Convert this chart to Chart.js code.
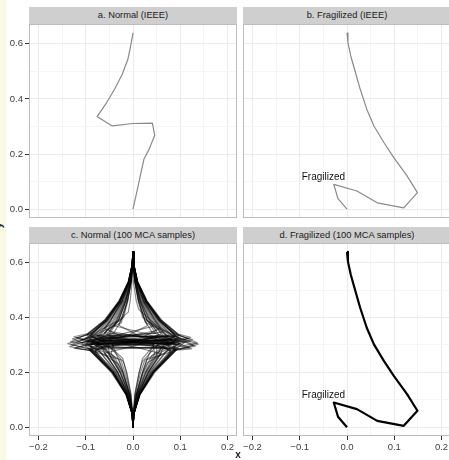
<!DOCTYPE html>
<html><head><meta charset="utf-8">
<script src="https://cdn.jsdelivr.net/npm/chart.js@4"></script>
<style>
html,body{margin:0;padding:0;background:#fff;}
body{width:449px;height:460px;overflow:hidden;position:relative;font-family:"Liberation Sans",Arial,sans-serif;}
#cream{position:absolute;left:0;top:0;width:6px;height:460px;background:#fcf9e3;}
.strip{position:absolute;width:208px;height:17px;background:#cfcfcf;color:#1a1a1a;font-size:9.3px;line-height:17px;text-align:center;white-space:nowrap;}
canvas{position:absolute;}
#xt{position:absolute;left:228px;top:449px;width:20px;text-align:center;font-size:10px;font-weight:bold;color:#222;}
#yt{position:absolute;left:-4px;top:220px;font-size:10px;font-weight:bold;color:#222;transform:rotate(-90deg);}
</style></head><body>
<div id="cream"></div>
<div class="strip" style="left:29px;top:7px;">a. Normal (IEEE)</div>
<div class="strip" style="left:243px;top:7px;">b. Fragilized (IEEE)</div>
<div class="strip" style="left:29px;top:227px;height:16px;line-height:16px;">c. Normal (100 MCA samples)</div>
<div class="strip" style="left:243px;top:227px;height:16px;line-height:16px;">d. Fragilized (100 MCA samples)</div>
<canvas id="pa" width="240" height="202" style="left:0;top:20px;"></canvas>
<canvas id="pb" width="212" height="202" style="left:240px;top:20px;"></canvas>
<canvas id="pc" width="240" height="221" style="left:0;top:239px;"></canvas>
<canvas id="pd" width="212" height="221" style="left:240px;top:239px;"></canvas>
<div id="xt">x</div>
<div id="yt">y</div>
<script>
// ---- axis ticks ----
const xMajor = [-0.2, -0.1, 0, 0.1, 0.2];
const xTickLabels = ['−0.2', '−0.1', '0.0', '0.1', '0.2'];
const xMinor = [-0.15, -0.05, 0.05, 0.15];
const yMajor = [0, 0.2, 0.4, 0.6];
const yTickLabels = ['0.0', '0.2', '0.4', '0.6'];
const yMinor = [0.1, 0.3, 0.5];
const xLimits = [-0.22, 0.22];
const yLimits = [-0.032, 0.672];

// ---- a. Normal (IEEE) ----
const normalX = [0, -0.005, -0.011, -0.023, -0.039, -0.056, -0.076, -0.044, 0.000, 0.041, 0.046, 0.034, 0.023, 0.014, 0];
const normalY = [0.640, 0.592, 0.543, 0.489, 0.435, 0.386, 0.336, 0.302, 0.311, 0.312, 0.268, 0.217, 0.181, 0.109, 0];

// ---- b./d. Fragilized ----
const fragX = [0, 0.002, 0.008, 0.018, 0.028, 0.042, 0.057, 0.078, 0.099, 0.127, 0.149, 0.120, 0.064, 0.021, -0.028, -0.019, 0];
const fragY = [0.640, 0.604, 0.556, 0.495, 0.435, 0.362, 0.302, 0.242, 0.187, 0.121, 0.060, 0.005, 0.023, 0.066, 0.090, 0.038, 0];

// annotation
const labelText = ['Fragilized'];
const labelX = [-0.05];
const labelY = [0.117];

// ---- c. Normal (MCA samples), each as flat x,y pairs ----
const mcaSamples = [
[0,0.64,-0.002,0.59,-0.008,0.53,-0.023,0.46,-0.047,0.39,-0.076,0.336,-0.044,0.302,0.000,0.311,0.041,0.312,0.046,0.268,0.025,0.20,0.008,0.12,0.001,0.05,0,0],
[0,0.64,0.002,0.59,0.008,0.53,0.023,0.46,0.047,0.39,0.076,0.336,0.044,0.302,-0.041,0.312,-0.046,0.268,-0.025,0.20,-0.008,0.12,-0.001,0.05,0,0],
[0,0.64,-0.002,0.59,-0.010,0.53,-0.029,0.46,-0.059,0.39,-0.095,0.340,-0.132,0.312,-0.090,0.294,0.088,0.286,0.042,0.20,0.014,0.12,0.002,0.05,0,0],
[0,0.64,0.002,0.59,0.010,0.53,0.029,0.46,0.059,0.39,0.095,0.338,0.136,0.308,0.092,0.292,-0.088,0.284,-0.042,0.20,-0.014,0.12,-0.002,0.05,0,0],
[0,0.64,-0.002,0.59,-0.009,0.53,-0.027,0.46,-0.056,0.39,-0.090,0.334,0.090,0.330,0.128,0.300,0.085,0.280,0.041,0.20,0.014,0.12,0.002,0.05,0,0],
[0,0.64,0.002,0.59,0.009,0.53,0.027,0.46,0.056,0.39,0.090,0.332,-0.092,0.328,-0.130,0.302,-0.085,0.282,-0.041,0.20,-0.014,0.12,-0.002,0.05,0,0],
[0,0.64,-0.002,0.59,-0.009,0.53,-0.026,0.46,-0.053,0.39,-0.085,0.345,-0.120,0.325,-0.060,0.305,0.070,0.318,0.080,0.276,0.038,0.20,0.013,0.12,0.002,0.05,0,0],
[0,0.64,0.002,0.59,0.009,0.53,0.026,0.46,0.053,0.39,0.085,0.344,0.118,0.322,0.062,0.306,-0.072,0.316,-0.080,0.278,-0.038,0.20,-0.013,0.12,-0.002,0.05,0,0],
[0,0.64,-0.001,0.59,-0.006,0.53,-0.018,0.46,-0.037,0.39,-0.060,0.342,-0.020,0.312,0.065,0.305,0.060,0.272,0.032,0.20,0.011,0.12,0.002,0.05,0,0],
[0,0.64,0.001,0.59,0.006,0.53,0.018,0.46,0.037,0.39,0.060,0.340,0.022,0.314,-0.068,0.306,-0.060,0.270,-0.032,0.20,-0.011,0.12,-0.002,0.05,0,0],
[0,0.64,-0.001,0.59,-0.004,0.53,-0.012,0.46,-0.030,0.372,0.010,0.335,0.075,0.310,0.040,0.262,0.022,0.20,0.007,0.12,0.001,0.05,0,0],
[0,0.64,0.001,0.59,0.004,0.53,0.012,0.46,0.030,0.370,-0.012,0.334,-0.078,0.308,-0.040,0.260,-0.022,0.20,-0.007,0.12,-0.001,0.05,0,0],
[0,0.64,-0.002,0.59,-0.009,0.53,-0.028,0.46,-0.057,0.39,-0.092,0.330,-0.138,0.305,-0.100,0.288,0.070,0.292,0.075,0.285,0.036,0.20,0.012,0.12,0.002,0.05,0,0],
[0,0.64,0.002,0.59,0.009,0.53,0.028,0.46,0.057,0.39,0.092,0.330,0.138,0.303,0.100,0.287,-0.070,0.294,-0.075,0.286,-0.036,0.20,-0.012,0.12,-0.002,0.05,0,0],
[0,0.64,-0.002,0.59,-0.008,0.53,-0.024,0.46,-0.050,0.39,-0.080,0.338,0.080,0.326,0.090,0.282,0.043,0.20,0.014,0.12,0.002,0.05,0,0],
[0,0.64,0.002,0.59,0.008,0.53,0.024,0.46,0.050,0.39,0.080,0.336,-0.082,0.324,-0.090,0.284,-0.043,0.20,-0.014,0.12,-0.002,0.05,0,0],
[0,0.64,-0.001,0.59,-0.007,0.53,-0.021,0.46,-0.043,0.39,-0.070,0.335,-0.110,0.318,-0.050,0.296,0.090,0.310,0.120,0.290,0.070,0.278,0.034,0.20,0.011,0.12,0.001,0.05,0,0],
[0,0.64,0.001,0.59,0.007,0.53,0.021,0.46,0.043,0.39,0.070,0.333,0.112,0.316,0.052,0.298,-0.092,0.308,-0.122,0.288,-0.070,0.276,-0.034,0.20,-0.011,0.12,-0.001,0.05,0,0],
[0,0.64,-0.001,0.59,-0.005,0.53,-0.015,0.46,-0.031,0.39,-0.050,0.350,0.040,0.322,0.095,0.320,0.050,0.290,0.050,0.262,0.027,0.20,0.009,0.12,0.001,0.05,0,0],
[0,0.64,0.001,0.59,0.005,0.53,0.015,0.46,0.031,0.39,0.050,0.352,-0.040,0.324,-0.095,0.318,-0.052,0.292,-0.050,0.264,-0.027,0.20,-0.009,0.12,-0.001,0.05,0,0],
[0,0.64,-0.001,0.59,-0.004,0.53,-0.011,0.46,-0.020,0.400,-0.070,0.332,0.080,0.300,0.030,0.250,0.020,0.20,0.007,0.12,0.001,0.05,0,0],
[0,0.64,0.001,0.59,0.004,0.53,0.011,0.46,0.020,0.402,0.072,0.334,-0.080,0.298,-0.030,0.248,-0.020,0.20,-0.007,0.12,-0.001,0.05,0,0],
[0,0.64,-0.002,0.59,-0.010,0.53,-0.029,0.46,-0.059,0.39,-0.095,0.336,-0.070,0.318,0.090,0.315,0.060,0.290,0.092,0.282,0.044,0.20,0.015,0.12,0.002,0.05,0,0],
[0,0.64,0.002,0.59,0.010,0.53,0.029,0.46,0.059,0.39,0.095,0.334,0.070,0.316,-0.090,0.313,-0.060,0.288,-0.092,0.284,-0.044,0.20,-0.015,0.12,-0.002,0.05,0,0],
[0,0.64,-0.001,0.59,-0.004,0.53,-0.012,0.46,-0.025,0.39,-0.040,0.345,-0.085,0.315,0.030,0.300,0.100,0.305,0.060,0.275,0.032,0.20,0.011,0.12,0.002,0.05,0,0],
[0,0.64,0.001,0.59,0.004,0.53,0.012,0.46,0.025,0.39,0.040,0.347,0.085,0.317,-0.030,0.302,-0.100,0.303,-0.060,0.273,-0.032,0.20,-0.011,0.12,-0.002,0.05,0,0],
[0,0.64,-0.002,0.59,-0.009,0.53,-0.027,0.46,-0.056,0.39,-0.090,0.340,-0.128,0.322,-0.094,0.300,0.092,0.322,0.132,0.296,0.090,0.282,0.043,0.20,0.014,0.12,0.002,0.05,0,0],
[0,0.64,0.002,0.59,0.009,0.53,0.027,0.46,0.056,0.39,0.090,0.338,0.126,0.320,0.094,0.302,-0.090,0.320,-0.134,0.294,-0.090,0.280,-0.043,0.20,-0.014,0.12,-0.002,0.05,0,0],
[0,0.64,-0.001,0.59,-0.007,0.53,-0.020,0.46,-0.040,0.39,-0.065,0.330,0.060,0.290,0.040,0.240,0.027,0.20,0.009,0.12,0.001,0.05,0,0],
[0,0.64,0.001,0.59,0.007,0.53,0.020,0.46,0.040,0.39,0.065,0.332,-0.060,0.292,-0.040,0.242,-0.027,0.20,-0.009,0.12,-0.001,0.05,0,0],
[0,0.64,-0.002,0.59,-0.009,0.53,-0.026,0.46,-0.053,0.39,-0.085,0.332,-0.100,0.300,0.030,0.330,0.090,0.300,0.085,0.282,0.041,0.20,0.014,0.12,0.002,0.05,0,0],
[0,0.64,0.002,0.59,0.009,0.53,0.026,0.46,0.053,0.39,0.085,0.330,0.100,0.302,-0.030,0.328,-0.090,0.302,-0.085,0.280,-0.041,0.20,-0.014,0.12,-0.002,0.05,0,0],
[0,0.64,-0.001,0.59,-0.005,0.53,-0.015,0.46,-0.030,0.390,-0.100,0.325,0.060,0.315,0.020,0.240,0.013,0.20,0.004,0.12,0.001,0.05,0,0],
[0,0.64,0.001,0.59,0.005,0.53,0.015,0.46,0.030,0.388,0.100,0.323,-0.060,0.313,-0.020,0.238,-0.013,0.20,-0.004,0.12,-0.001,0.05,0,0],
[0,0.64,-0.002,0.59,-0.010,0.53,-0.029,0.46,-0.059,0.39,-0.095,0.342,-0.125,0.330,-0.085,0.310,0.085,0.305,0.124,0.286,0.085,0.280,0.041,0.20,0.014,0.12,0.002,0.05,0,0],
[0,0.64,0.002,0.59,0.010,0.53,0.029,0.46,0.059,0.39,0.095,0.340,0.122,0.328,0.085,0.312,-0.085,0.303,-0.125,0.288,-0.085,0.278,-0.041,0.20,-0.014,0.12,-0.002,0.05,0,0],
[0,0.64,-0.002,0.59,-0.008,0.53,-0.023,0.46,-0.047,0.39,-0.075,0.330,-0.040,0.300,0.070,0.320,0.110,0.310,0.090,0.285,0.043,0.20,0.014,0.12,0.002,0.05,0,0],
[0,0.64,0.002,0.59,0.008,0.53,0.023,0.46,0.047,0.39,0.075,0.328,0.040,0.302,-0.070,0.322,-0.110,0.308,-0.090,0.283,-0.043,0.20,-0.014,0.12,-0.002,0.05,0,0],
[0,0.64,-0.002,0.59,-0.009,0.53,-0.026,0.46,-0.055,0.39,-0.088,0.338,0.000,0.318,0.088,0.333,0.050,0.300,0.080,0.280,0.038,0.20,0.013,0.12,0.002,0.05,0,0],
[0,0.64,0.002,0.59,0.009,0.53,0.026,0.46,0.055,0.39,0.088,0.336,0.000,0.316,-0.088,0.331,-0.050,0.302,-0.080,0.278,-0.038,0.20,-0.013,0.12,-0.002,0.05,0,0],
[0,0.64,-0.002,0.59,-0.009,0.53,-0.028,0.46,-0.057,0.39,-0.092,0.336,-0.060,0.310,-0.095,0.286,-0.046,0.20,-0.015,0.12,-0.002,0.05,0,0],
[0,0.64,0.002,0.59,0.009,0.53,0.028,0.46,0.057,0.39,0.092,0.334,0.058,0.312,0.095,0.288,0.046,0.20,0.015,0.12,0.002,0.05,0,0],
[0,0.64,-0.001,0.59,-0.006,0.53,-0.017,0.46,-0.034,0.39,-0.055,0.338,0.020,0.305,-0.060,0.270,-0.032,0.20,-0.011,0.12,-0.002,0.05,0,0],
[0,0.64,0.001,0.59,0.006,0.53,0.017,0.46,0.034,0.39,0.055,0.336,-0.020,0.303,0.060,0.268,0.032,0.20,0.011,0.12,0.002,0.05,0,0],
[0,0.64,0.000,0.59,-0.002,0.53,-0.006,0.46,-0.010,0.420,-0.060,0.345,0.085,0.320,0.040,0.290,0.020,0.250,0.013,0.20,0.004,0.12,0.001,0.05,0,0],
[0,0.64,0.000,0.59,0.002,0.53,0.007,0.46,0.012,0.430,0.065,0.348,-0.088,0.318,-0.045,0.288,-0.022,0.252,-0.014,0.20,-0.005,0.12,-0.001,0.05,0,0],
[0,0.64,-0.001,0.59,-0.005,0.53,-0.016,0.46,-0.040,0.370,0.030,0.340,0.095,0.300,0.030,0.235,0.021,0.20,0.007,0.12,0.001,0.05,0,0],
[0,0.64,0.001,0.59,0.005,0.53,0.016,0.46,0.042,0.368,-0.030,0.338,-0.095,0.302,-0.032,0.232,-0.022,0.20,-0.007,0.12,-0.001,0.05,0,0],
[0,0.64,-0.001,0.59,-0.008,0.53,-0.023,0.46,-0.047,0.39,-0.060,0.360,-0.010,0.320,0.100,0.315,0.060,0.290,0.050,0.255,0.029,0.20,0.010,0.12,0.001,0.05,0,0],
[0,0.64,0.001,0.59,0.008,0.53,0.022,0.46,0.045,0.39,0.058,0.362,0.012,0.322,-0.100,0.312,-0.062,0.288,-0.048,0.258,-0.028,0.20,-0.009,0.12,-0.001,0.05,0,0],
[0,0.64,-0.001,0.59,-0.004,0.53,-0.012,0.46,-0.025,0.380,-0.090,0.330,-0.120,0.310,0.060,0.295,0.080,0.275,0.025,0.245,0.016,0.20,0.005,0.12,0.001,0.05,0,0],
[0,0.64,0.001,0.59,0.004,0.53,0.012,0.46,0.026,0.382,0.090,0.332,0.122,0.312,-0.060,0.297,-0.082,0.276,-0.026,0.246,-0.017,0.20,-0.005,0.12,-0.001,0.05,0,0],
[0,0.64,-0.002,0.59,-0.010,0.53,-0.030,0.46,-0.061,0.39,-0.098,0.338,-0.080,0.300,0.098,0.322,0.070,0.300,0.092,0.284,0.044,0.20,0.015,0.12,0.002,0.05,0,0],
[0,0.64,0.002,0.59,0.010,0.53,0.030,0.46,0.061,0.39,0.098,0.336,0.080,0.302,-0.098,0.320,-0.070,0.298,-0.092,0.282,-0.044,0.20,-0.015,0.12,-0.002,0.05,0,0],
[0,0.64,-0.001,0.59,-0.005,0.53,-0.015,0.46,-0.031,0.39,-0.050,0.340,0.050,0.330,0.030,0.250,0.020,0.20,0.007,0.12,0.001,0.05,0,0],
[0,0.64,0.001,0.59,0.005,0.53,0.014,0.46,0.030,0.39,0.048,0.342,-0.050,0.332,-0.032,0.252,-0.021,0.20,-0.007,0.12,-0.001,0.05,0,0]
];

// ---- helpers ----
const FONT = '"Liberation Sans", Arial, sans-serif';
const near = (a, b) => Math.abs(a - b) < 1e-9;
const isMajor = (v, major) => major.some(m => near(m, v));
const labelOf = (v, major, labels) => { const i = major.findIndex(m => near(m, v)); return i < 0 ? '' : labels[i]; };
const ticksFrom = (major, minor) => major.concat(minor).sort((a, b) => a - b).map(v => ({ value: v }));
const toPoints = (xs, ys) => xs.map((x, i) => ({ x: x, y: ys[i] }));
const flatToPoints = arr => { const p = []; for (let i = 0; i < arr.length; i += 2) p.push({ x: arr[i], y: arr[i + 1] }); return p; };

const borderPlugin = {
  id: 'panelBorder',
  afterDraw(chart) {
    const a = chart.chartArea, c = chart.ctx;
    c.save();
    c.strokeStyle = '#bdbdbd'; c.lineWidth = 1;
    c.strokeRect(Math.round(a.left) + 0.5, Math.round(a.top) + 0.5, Math.round(a.right - a.left) - 1, Math.round(a.bottom - a.top) - 1);
    c.restore();
  }
};
const labelPlugin = {
  id: 'fragLabel',
  afterDatasetsDraw(chart, args, opts) {
    if (!opts || !opts.show) return;
    const xs = chart.scales.x, ys = chart.scales.y, c = chart.ctx;
    c.save();
    c.font = '10px ' + FONT; c.fillStyle = '#111';
    c.textAlign = 'center'; c.textBaseline = 'middle';
    labelText.forEach((t, i) => c.fillText(t, xs.getPixelForValue(labelX[i]), ys.getPixelForValue(labelY[i])));
    c.restore();
  }
};

function panel(id, datasets, cfg) {
  const gridColor = major => ctx => (ctx.tick && isMajor(ctx.tick.value, major)) ? '#ebebeb' : '#f5f5f5';
  const tickColor = major => ctx => (ctx.tick && isMajor(ctx.tick.value, major)) ? '#333333' : 'rgba(0,0,0,0)';
  return new Chart(document.getElementById(id), {
    type: 'scatter',
    data: { datasets: datasets },
    options: {
      responsive: false, animation: false, devicePixelRatio: 1,
      layout: { padding: { top: 4, right: cfg.padRight, left: 0, bottom: 0 } },
      plugins: { legend: { display: false }, tooltip: { enabled: false }, title: { display: false }, fragLabel: { show: cfg.label } },
      elements: { point: { radius: 0 }, line: { tension: 0, borderJoinStyle: 'round', borderCapStyle: 'butt' } },
      scales: {
        x: {
          type: 'linear', min: xLimits[0], max: xLimits[1],
          afterBuildTicks: ax => { ax.ticks = ticksFrom(xMajor, xMinor); },
          afterFit: ax => { ax.height = cfg.xh; ax.paddingLeft = 0; ax.paddingRight = 0; ax.paddingTop = 0; ax.paddingBottom = 0; },
          border: { display: false },
          grid: { color: gridColor(xMajor), lineWidth: 1, drawTicks: cfg.xTicks, tickLength: 4, tickColor: tickColor(xMajor), tickWidth: 1 },
          ticks: { display: cfg.xTicks, autoSkip: false, maxRotation: 0, minRotation: 0, padding: 2, color: '#3c3c3c', font: { family: FONT, size: 9.5 },
                   callback: v => labelOf(v, xMajor, xTickLabels) }
        },
        y: {
          type: 'linear', min: yLimits[0], max: yLimits[1],
          afterBuildTicks: ax => { ax.ticks = ticksFrom(yMajor, yMinor); },
          afterFit: ax => { ax.width = cfg.yw; ax.paddingTop = 0; ax.paddingBottom = 0; ax.paddingLeft = 0; ax.paddingRight = 0; },
          border: { display: false },
          grid: { color: gridColor(yMajor), lineWidth: 1, drawTicks: cfg.yTicks, tickLength: 4, tickColor: tickColor(yMajor), tickWidth: 1 },
          ticks: { display: cfg.yTicks, autoSkip: false, padding: 2, color: '#3c3c3c', font: { family: FONT, size: 9.5 },
                   callback: v => labelOf(v, yMajor, yTickLabels) }
        }
      }
    },
    plugins: [borderPlugin, labelPlugin]
  });
}

const lineDs = (pts, color, width) => ({ data: pts, showLine: true, borderColor: color, borderWidth: width, pointRadius: 0, fill: false });

panel('pa', [lineDs(toPoints(normalX, normalY), '#8a8a8a', 1.2)],
      { padRight: 3, xh: 4, yw: 29, xTicks: false, yTicks: true, label: false });
panel('pb', [lineDs(toPoints(fragX, fragY), '#8a8a8a', 1.2)],
      { padRight: 1, xh: 4, yw: 3, xTicks: false, yTicks: false, label: true });
panel('pc', mcaSamples.map(s => lineDs(flatToPoints(s), 'rgba(0,0,0,0.45)', 1.2)),
      { padRight: 3, xh: 24, yw: 29, xTicks: true, yTicks: true, label: false });
panel('pd', [lineDs(toPoints(fragX, fragY), '#000000', 2.2)],
      { padRight: 1, xh: 24, yw: 3, xTicks: true, yTicks: false, label: true });
</script>
</body></html>
